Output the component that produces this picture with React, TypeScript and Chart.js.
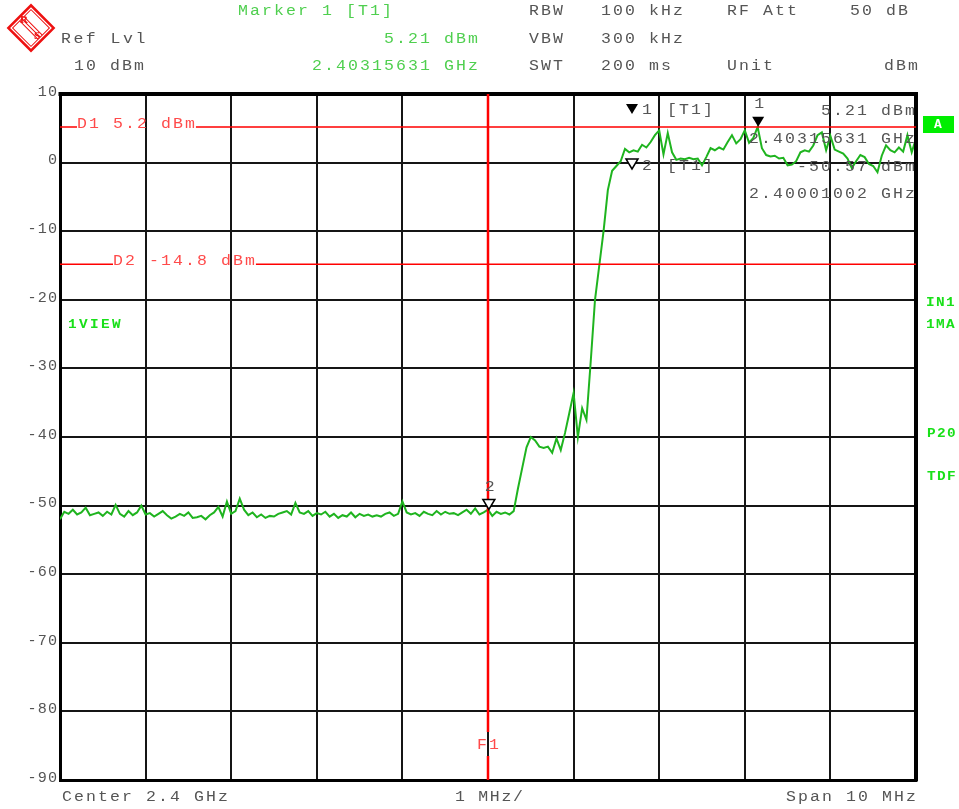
import React, { useEffect, useRef } from "react";
import { Chart, registerables } from "chart.js";

Chart.register(...registerables);

// Sweep: offset from centre frequency (2.4 GHz), in MHz
const SWEEP_START_MHZ = -5;
const SWEEP_STEP_MHZ = 0.05;

// Trace 1 level, dBm (201 sweep points)
const traceDbm: number[] = [
  -52.0, -50.9, -51.2, -50.6, -51.3, -51.0, -50.3, -51.4, -51.2, -51.0,
  -51.5, -50.9, -51.3, -49.9, -51.2, -51.6, -50.8, -51.4, -51.0, -50.0,
  -51.3, -51.1, -51.6, -51.2, -50.8, -51.4, -51.9, -51.6, -51.2, -51.5,
  -51.0, -51.8, -51.7, -51.5, -52.0, -51.4, -51.0, -50.2, -51.6, -49.4,
  -51.2, -50.8, -49.0, -50.6, -51.4, -51.0, -51.7, -51.3, -51.8, -51.5,
  -51.6, -51.2, -51.0, -50.8, -51.3, -49.6, -51.0, -51.2, -50.8, -51.5,
  -51.1, -51.3, -50.9, -51.6, -51.2, -51.8, -51.4, -51.6, -51.0, -51.7,
  -51.2, -51.5, -51.3, -51.6, -51.4, -51.6, -51.2, -51.0, -51.5, -51.2,
  -49.4, -51.0, -51.3, -51.1, -51.5, -50.9, -51.2, -51.4, -50.8, -51.3,
  -50.9, -51.2, -51.1, -51.4, -51.0, -50.6, -51.2, -50.4, -51.3, -51.0,
  -50.6, -51.5, -50.9, -51.2, -51.0, -51.3, -50.8, -47.5, -44.5, -41.5,
  -40.0, -40.5, -41.4, -41.6, -41.4, -42.3, -40.2, -41.9, -39.4, -36.5,
  -33.6, -40.0, -35.8, -37.5, -29.0, -20.0, -15.0, -10.0, -4.0, -1.2,
  -0.5, 0.2, 2.0, 1.5, 1.8, 1.6, 2.6, 2.2, 3.0, 4.0,
  4.7, 1.2, 4.3, 1.5, 0.4, 0.6, 0.5, 0.7, 0.5, 0.6,
  -0.4, 0.8, 2.1, 1.8, 2.2, 1.9, 3.0, 4.0, 2.8, 3.4,
  4.7, 2.9, 3.6, 5.2, 2.1, 1.1, 0.9, 1.0, 0.6, 0.7,
  -0.4, -0.3, 0.2, 1.5, 1.8, 1.6, 2.5, 4.0, 4.4, 1.8,
  3.9, 1.9, 1.6, 1.3, 0.6, -0.8, 0.2, 1.1, 0.8, -0.2,
  -0.5, -1.4, 1.0, 2.5, 1.8, 1.5, 2.2, 1.6, 4.0, 1.5,
  3.5,
];

// Axis ranges
const X_MIN_MHZ = -5;
const X_MAX_MHZ = 5;
const X_STEP_MHZ = 1;
const Y_MIN_DBM = -90;
const Y_MAX_DBM = 10;
const Y_STEP_DBM = 10;

// Display lines
const D1_DBM = 5.2;
const D2_DBM = -14.8;
const F1_MHZ = 0;

// Markers
const marker1 = { fMHz: 3.15631, dbm: 5.21, label: "1" };
const marker2 = { fMHz: 0.01002, dbm: -50.57, label: "2" };

// Header texts
const headerGrey = [
  ["RBW", "100 kHz", "RF Att", "50 dB"],
  ["VBW", "300 kHz", "", ""],
  ["SWT", "200 ms", "Unit", "dBm"],
];

const MONO = '"Liberation Mono", "DejaVu Sans Mono", monospace';
const GREY = "#555555";
const HGREEN = "#4fcf4f";
const RED_TXT = "#ff4a4a";
const BGREEN = "#19e019";
const SX = 1.18;

function mono(
  ctx: CanvasRenderingContext2D,
  text: string,
  x: number,
  y: number,
  adv: number,
  align: "left" | "right",
  color: string,
  font: string,
  sx: number = SX
) {
  ctx.save();
  ctx.font = font;
  ctx.fillStyle = color;
  ctx.textAlign = "left";
  ctx.textBaseline = "middle";
  const glyphW = ctx.measureText("0").width * sx;
  const n = text.length;
  const start = align === "left" ? x : x - ((n - 1) * adv + glyphW);
  for (let i = 0; i < n; i++) {
    ctx.save();
    ctx.translate(start + i * adv, y);
    ctx.scale(sx, 1);
    ctx.fillText(text[i], 0, 0);
    ctx.restore();
  }
  ctx.restore();
  return start;
}

function tri(ctx: CanvasRenderingContext2D, x: number, tipY: number, filled: boolean) {
  ctx.save();
  ctx.beginPath();
  ctx.moveTo(x - 6, tipY - 10);
  ctx.lineTo(x + 6, tipY - 10);
  ctx.lineTo(x, tipY);
  ctx.closePath();
  if (filled) {
    ctx.fillStyle = "#000";
    ctx.fill();
  } else {
    ctx.fillStyle = "#fff";
    ctx.fill();
    ctx.strokeStyle = "#000";
    ctx.lineWidth = 1.5;
    ctx.stroke();
  }
  ctx.restore();
}

const overlay = {
  id: "overlay",
  afterDraw(chart: any) {
    const ctx: CanvasRenderingContext2D = chart.ctx;
    const { left, right, top, bottom } = chart.chartArea;
    const xs = chart.scales.x;
    const ys = chart.scales.y;
    const F = `14px ${MONO}`;
    const A = 12;

    // frame top/right
    ctx.save();
    ctx.strokeStyle = "#000";
    ctx.lineWidth = 4;
    ctx.beginPath();
    ctx.moveTo(left - 1.5, top);
    ctx.lineTo(right, top);
    ctx.lineTo(right, bottom + 1.5);
    ctx.stroke();
    ctx.restore();

    // y tick labels from the scale
    ys.ticks.forEach((t: any) => {
      const py = ys.getPixelForValue(t.value);
      mono(ctx, String(t.value), left - 3, py - 2, 10.2, "right", GREY, F, 1.08);
    });

    // Display lines D1 / D2
    const dline = (v: number, label: string, labelX: number) => {
      const py = ys.getPixelForValue(v);
      ctx.save();
      ctx.font = F;
      const w = (label.length - 1) * A + ctx.measureText("0").width * SX;
      ctx.strokeStyle = "#ff0000";
      ctx.lineWidth = 1.5;
      ctx.beginPath();
      ctx.moveTo(left, py);
      ctx.lineTo(labelX, py);
      ctx.moveTo(labelX + w + 1, py);
      ctx.lineTo(right, py);
      ctx.stroke();
      ctx.restore();
      mono(ctx, label, labelX, py - 3, A, "left", RED_TXT, F);
    };
    dline(D1_DBM, "D1 5.2 dBm", 77);
    dline(D2_DBM, "D2 -14.8 dBm", 113);

    // F1 line
    const fx = xs.getPixelForValue(F1_MHZ);
    ctx.save();
    ctx.strokeStyle = "#ff0000";
    ctx.lineWidth = 2.5;
    ctx.beginPath();
    ctx.moveTo(fx, top);
    ctx.lineTo(fx, bottom - 48);
    ctx.moveTo(fx, bottom - 24);
    ctx.lineTo(fx, bottom);
    ctx.stroke();
    ctx.restore();
    mono(ctx, "F1", fx - 11, bottom - 35, A, "left", RED_TXT, F);

    // markers on trace
    const m1x = xs.getPixelForValue(marker1.fMHz);
    const m1y = ys.getPixelForValue(marker1.dbm);
    tri(ctx, m1x, m1y, true);
    mono(ctx, marker1.label, m1x - 4, m1y - 23, A, "left", GREY, F);
    const m2x = xs.getPixelForValue(marker2.fMHz);
    const m2y = ys.getPixelForValue(marker2.dbm);
    tri(ctx, m2x, m2y, false);
    mono(ctx, marker2.label, m2x - 4, m2y - 22, A, "left", GREY, F);

    // marker info block
    tri(ctx, 632, 114, true);
    mono(ctx, "1", 642, 110, A, "left", GREY, F);
    mono(ctx, "[T1]", 667, 110, A, "left", GREY, F);
    mono(ctx, "5.21 dBm", right - 1, 111, A, "right", GREY, F);
    mono(ctx, "2.40315631 GHz", right - 1, 139, A, "right", GREY, F);
    tri(ctx, 632, 169, false);
    mono(ctx, "2", 642, 166, A, "left", GREY, F);
    mono(ctx, "[T1]", 667, 166, A, "left", GREY, F);
    mono(ctx, "-50.57 dBm", right - 1, 167, A, "right", GREY, F);
    mono(ctx, "2.40001002 GHz", right - 1, 194, A, "right", GREY, F);

    // header
    mono(ctx, "Marker 1 [T1]", 238, 11, A, "left", HGREEN, F);
    mono(ctx, "Ref Lvl", 61, 39, 12.4, "left", GREY, F);
    mono(ctx, "10 dBm", 74, 66, A, "left", GREY, F);
    mono(ctx, "5.21 dBm", 478, 39, A, "right", HGREEN, F);
    mono(ctx, "2.40315631 GHz", 478, 66, A, "right", HGREEN, F);
    const rowsY = [11, 39, 66];
    headerGrey.forEach((row, r) => {
      const y = rowsY[r];
      if (row[0]) mono(ctx, row[0], 529, y, A, "left", GREY, F);
      if (row[1]) mono(ctx, row[1], 601, y, A, "left", GREY, F);
      if (row[2]) mono(ctx, row[2], 727, y, A, "left", GREY, F);
      if (row[3]) mono(ctx, row[3], r === 0 ? 908 : 918, y, A, "right", GREY, F);
    });

    // bottom
    mono(ctx, "Center 2.4 GHz", 62, 797, A, "left", GREY, F);
    mono(ctx, "1 MHz/", 455, 797, 11.6, "left", GREY, F);
    mono(ctx, "Span 10 MHz", 916, 797, A, "right", GREY, F);

    // side labels
    const BF = `bold 12px ${MONO}`;
    mono(ctx, "1VIEW", 68, 325, 11, "left", BGREEN, BF, 1.2);
    mono(ctx, "IN1", 926, 303, 10, "left", BGREEN, BF, 1.2);
    mono(ctx, "1MA", 926, 325, 10, "left", BGREEN, BF, 1.2);
    mono(ctx, "P20", 927, 434, 10, "left", BGREEN, BF, 1.2);
    mono(ctx, "TDF", 927, 477, 10, "left", BGREEN, BF, 1.2);

    // "A" box
    ctx.save();
    ctx.fillStyle = "#00ee00";
    ctx.fillRect(923, 116, 31, 17);
    ctx.restore();
    ctx.save();
    ctx.font = `bold 13px ${MONO}`;
    ctx.fillStyle = "#ffffff";
    ctx.textAlign = "center";
    ctx.textBaseline = "middle";
    ctx.fillText("A", 938, 125);
    ctx.restore();

    // R&S logo
    ctx.save();
    ctx.translate(31, 28);
    ctx.rotate(Math.PI / 4);
    ctx.strokeStyle = "#ee1111";
    ctx.lineWidth = 2.5;
    ctx.strokeRect(-16, -16, 32, 32);
    ctx.lineWidth = 1;
    ctx.strokeRect(-13, -13, 26, 26);
    ctx.beginPath();
    for (const d of [-3, 0, 3]) {
      ctx.moveTo(-13, d);
      ctx.lineTo(13, d);
    }
    ctx.stroke();
    ctx.restore();
    ctx.save();
    ctx.fillStyle = "#ee1111";
    ctx.font = `bold 11px "Liberation Serif", serif`;
    ctx.textAlign = "center";
    ctx.textBaseline = "middle";
    ctx.fillText("R", 24, 20);
    ctx.fillText("S", 37, 36);
    ctx.restore();
  },
};

export default function App() {
  const ref = useRef<HTMLCanvasElement | null>(null);
  useEffect(() => {
    if (!ref.current) return;
    const points = traceDbm.map((v, i) => ({
      x: SWEEP_START_MHZ + i * SWEEP_STEP_MHZ,
      y: v,
    }));
    const grid = { color: "#151515", lineWidth: 2, drawTicks: false };
    const chart = new Chart(ref.current, {
      type: "line",
      data: {
        datasets: [
          {
            data: points,
            borderColor: "#1fb41f",
            borderWidth: 2,
            pointRadius: 0,
            tension: 0,
            fill: false,
          },
        ],
      },
      options: {
        animation: false,
        responsive: false,
        events: [],
        layout: { padding: { left: 60, top: 94, right: 43, bottom: 29 } },
        plugins: { legend: { display: false }, tooltip: { enabled: false } },
        scales: {
          x: {
            type: "linear",
            min: X_MIN_MHZ,
            max: X_MAX_MHZ,
            ticks: { display: false, stepSize: X_STEP_MHZ },
            grid,
            border: { color: "#000", width: 3 },
          },
          y: {
            type: "linear",
            min: Y_MIN_DBM,
            max: Y_MAX_DBM,
            ticks: { display: false, stepSize: Y_STEP_DBM },
            grid,
            border: { color: "#000", width: 3 },
          },
        },
      } as any,
      plugins: [overlay],
    });
    return () => chart.destroy();
  }, []);
  return (
    <div style={{ position: "absolute", left: 0, top: 0, width: 959, height: 809, background: "#fff" }}>
      <canvas ref={ref} width={959} height={809} style={{ display: "block" }} />
    </div>
  );
}
